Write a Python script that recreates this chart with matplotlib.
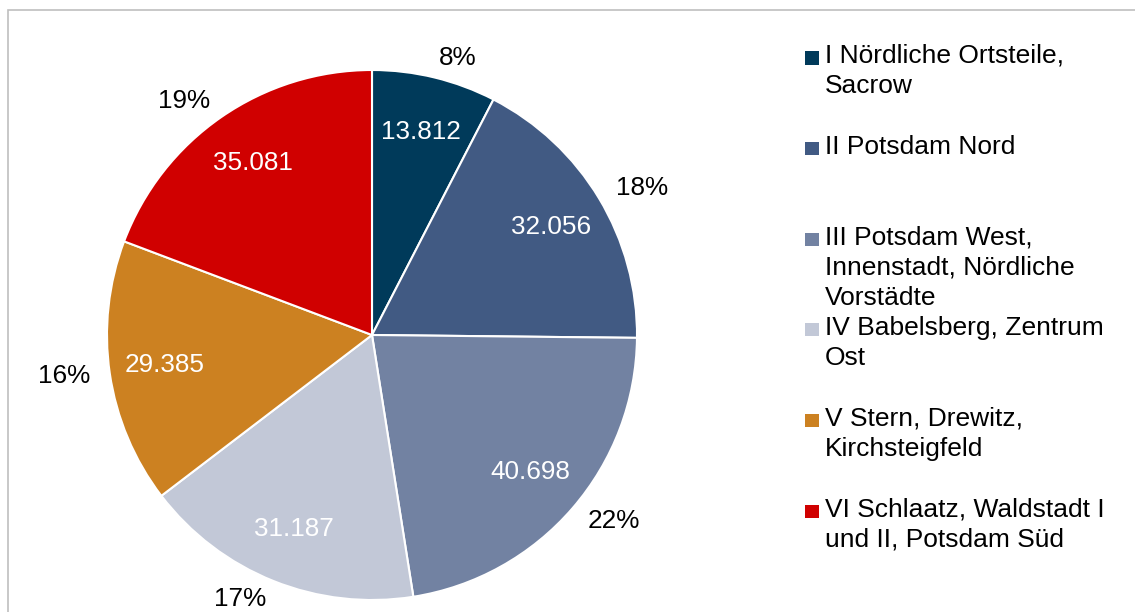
import matplotlib.pyplot as plt
from matplotlib.patches import Rectangle

# Einwohner nach Sozialräumen
names = ["I Nördliche Ortsteile,\nSacrow",
         "II Potsdam Nord",
         "III Potsdam West,\nInnenstadt, Nördliche\nVorstädte",
         "IV Babelsberg, Zentrum\nOst",
         "V Stern, Drewitz,\nKirchsteigfeld",
         "VI Schlaatz, Waldstadt I\nund II, Potsdam Süd"]
values = [13812, 32056, 40698, 31187, 29385, 35081]
colors = ["#003A5A", "#415A83", "#7282A2", "#C2C8D7", "#CC8121", "#D00000"]

plt.rcParams['font.family'] = ['Liberation Sans', 'DejaVu Sans']

W, H = 1135, 612
fig = plt.figure(figsize=(W / 100, H / 100), dpi=100)

# light gray chart border (open to the right and bottom)
fig.patches.append(Rectangle((8 / W, -0.1), 1.2, 1 - 9.5 / H + 0.1,
                             transform=fig.transFigure, fill=False,
                             edgecolor="#BFBFBF", linewidth=1.2))

# pie centre at (372, 335) px, radius 265 px
cx, cy, r = 372, 335, 265
ax = fig.add_axes([(cx - r) / W, (H - cy - r) / H, 2 * r / W, 2 * r / H])

total = sum(values)
pct_labels = ["{:.0f}%".format(100 * v / total) for v in values]

wedges, texts, autotexts = ax.pie(
    values, colors=colors, labels=pct_labels, startangle=90, counterclock=False,
    autopct="%1.0f", pctdistance=0.79, labeldistance=1.075,
    wedgeprops=dict(edgecolor="white", linewidth=1.5),
    textprops=dict(fontsize=18.8))

for t in texts:
    t.set_color("black")
for t, v in zip(autotexts, values):
    t.set_text("{:,}".format(v).replace(",", "."))
    t.set_color("white")

ax.set_xlim(-1, 1)
ax.set_ylim(-1, 1)
ax.axis("off")

# legend: fixed slot per entry, square next to the first line
y0, step = 58, 90.6
for i, (name, c) in enumerate(zip(names, colors)):
    y = y0 + i * step
    fig.patches.append(Rectangle((805 / W, 1 - (y + 6.5) / H), 14 / W, 13 / H,
                                 transform=fig.transFigure, facecolor=c,
                                 edgecolor="none"))
    fig.text(825 / W, 1 - (y - 14) / H, name, ha="left", va="top",
             fontsize=19, linespacing=1.33)

fig.savefig("out.png", dpi=100)
